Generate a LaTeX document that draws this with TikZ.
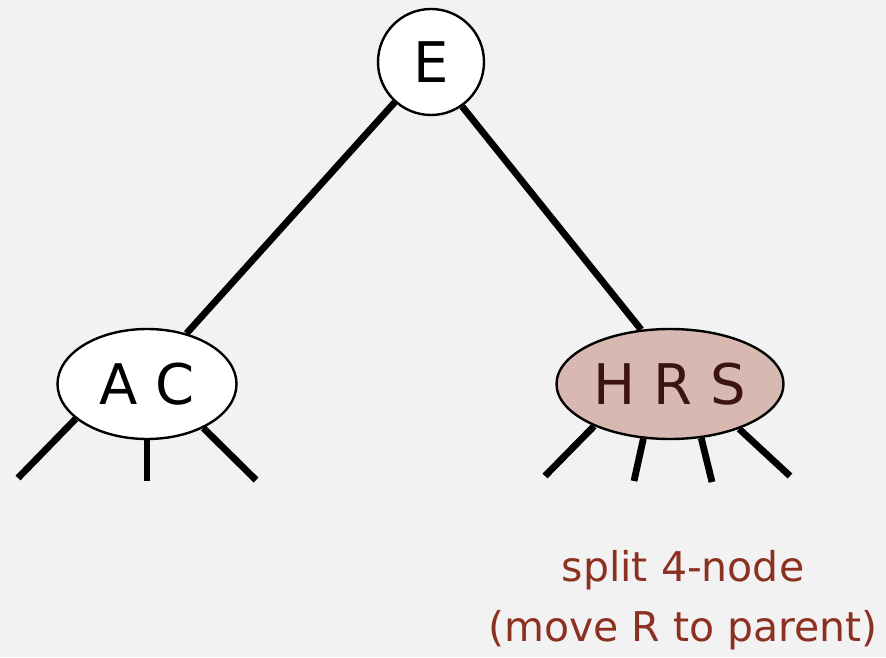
\documentclass[tikz,border=0pt]{standalone}
\usepackage{fontspec}
\setmainfont{DejaVu Sans}
\usetikzlibrary{shapes.geometric}

\definecolor{bggray}{HTML}{F2F2F2}
\definecolor{splitfill}{HTML}{D8B9B2}
\definecolor{splittext}{HTML}{3B1410}
\definecolor{notered}{HTML}{8C3122}

\begin{document}
\begin{tikzpicture}[
    x=0.5pt, y=-0.5pt,
    keyfont/.style={font=\fontsize{28}{32}\selectfont},
    keynode/.style={draw, line width=1.2pt, fill=white, inner sep=0pt, keyfont},
    twonode/.style={keynode, ellipse, minimum width=89.5pt, minimum height=55pt},
    fournode/.style={keynode, ellipse, fill=splitfill, text=splittext,
                     minimum width=113.5pt, minimum height=55pt},
    link/.style={line width=3.4pt}
  ]

  % ===== background =====
  \fill[bggray] (0,0) rectangle (886,657);

  % ===== nodes =====
  \node[keynode, circle, minimum size=53pt] (E) at (431,62) {E};
  \node[twonode] (AC) at (147,384) {A C};
  \node[fournode] (HRS) at (670,384) {H R S};

  \draw[link] (E.228) -- (AC.52);
  \draw[link] (E.305) -- (HRS.118);

  % ===== child links =====
  \coordinate (acL) at (18,478);
  \coordinate (acM) at (147,481);
  \coordinate (acR) at (256,480);
  \draw[link] (AC.206.6) -- (acL);
  \draw[link] (AC.south) -- (acM);
  \draw[link] (AC.322.8) -- (acR);

  \coordinate (hrsA) at (545,476);
  \coordinate (hrsB) at (634,481);
  \coordinate (hrsC) at (712,482);
  \coordinate (hrsD) at (790,476);
  \draw[link] (HRS.209.2) -- (hrsA);
  \draw[link] (HRS.244.3) -- (hrsB);
  \draw[link] (HRS.300.5) -- (hrsC);
  \draw[link] (HRS.327.8) -- (hrsD);

  % ===== annotation =====
  \node[align=center, text=notered, font=\fontsize{20.5}{30}\selectfont]
    (note) at (683,600) {split 4-node\\(move R to parent)};

\end{tikzpicture}
\end{document}
